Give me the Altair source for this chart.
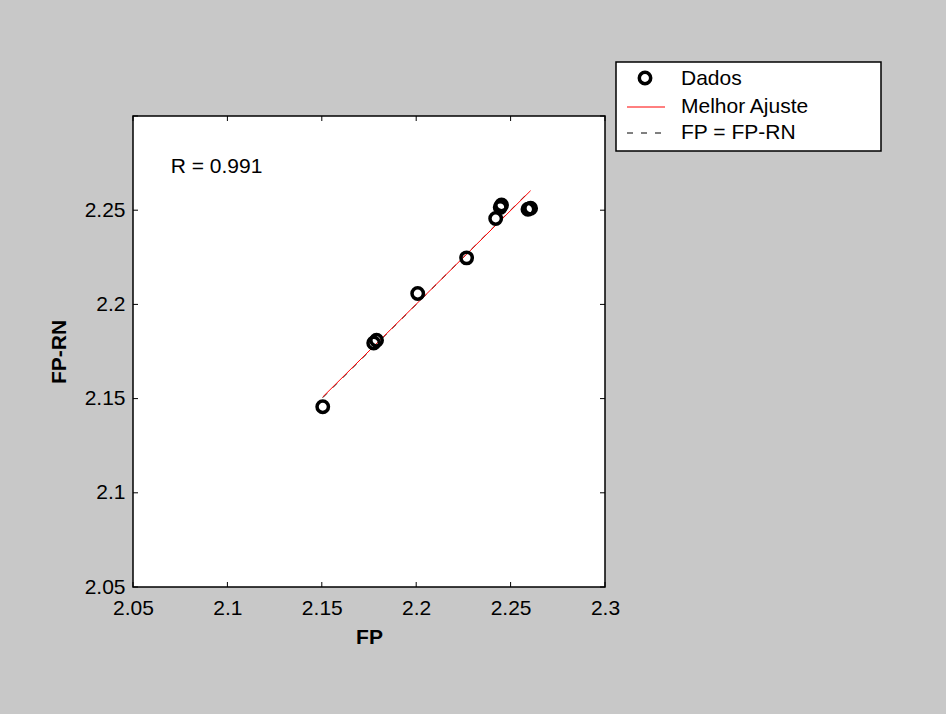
import altair as alt
import pandas as pd

# Measured pairs: target (FP) vs. network output (FP-RN)
fp = [2.1505, 2.1775, 2.1790, 2.2008, 2.2267, 2.2421, 2.2445, 2.2452, 2.2592, 2.2606]
fp_rn = [2.1457, 2.1795, 2.1810, 2.2058, 2.2247, 2.2456, 2.2515, 2.2528, 2.2505, 2.2510]

# Best linear fit (slope, intercept) and correlation
fit_slope = 0.9945
fit_intercept = 0.0122
r_value = 0.991

x_ticks = [2.05, 2.1, 2.15, 2.2, 2.25, 2.3]
y_ticks = [2.05, 2.1, 2.15, 2.2, 2.25, 2.3]
y_labels = [2.05, 2.1, 2.15, 2.2, 2.25]
legend_labels = ["Dados", "Melhor Ajuste", "FP = FP-RN"]

W, H = 472, 471
FONT = "Liberation Sans"
FS = 21
MARK_SIZE = 130
MARK_STROKE = 3.5

df = pd.DataFrame({"FP": fp, "FP-RN": fp_rn})
ends = pd.DataFrame({"FP": [min(fp), max(fp)]})

xs = alt.Scale(domain=[2.05, 2.3], nice=False, zero=False)
ys = alt.Scale(domain=[2.05, 2.3], nice=False, zero=False)

x_axis = alt.Axis(values=x_ticks, format="~g", ticks=False, domain=False, grid=False,
                  labelFlush=False, labelOverlap=False, labelPadding=10,
                  title="FP", titleX=W / 2, titleY=50, titleBaseline="middle",
                  titleAlign="center")
y_axis = alt.Axis(values=y_labels, format="~g", ticks=False, domain=False, grid=False,
                  labelFlush=False, labelOverlap=False, labelPadding=8,
                  title="FP-RN", titleX=-74, titleY=H / 2, titleAngle=-90,
                  titleBaseline="middle", titleAlign="center")

# Identity line y = x over the data range
identity = alt.Chart(ends).transform_calculate(
    FPRN="datum.FP"
).mark_line(color="black", strokeWidth=1, strokeDash=[6, 8]).encode(
    x=alt.X("FP:Q", scale=xs, axis=x_axis),
    y=alt.Y("FPRN:Q", scale=ys, axis=y_axis),
)

# Best-fit line
fit = alt.Chart(ends).transform_calculate(
    FPRN=f"{fit_intercept} + {fit_slope} * datum.FP"
).mark_line(color="#ff0000", strokeWidth=1).encode(
    x=alt.X("FP:Q", scale=xs),
    y=alt.Y("FPRN:Q", scale=ys),
)

points = alt.Chart(df).mark_point(
    shape="circle", filled=False, color="black", size=MARK_SIZE,
    strokeWidth=MARK_STROKE, opacity=1
).encode(
    x=alt.X("FP:Q", scale=xs),
    y=alt.Y("FP-RN:Q", scale=ys),
)

r_text = alt.Chart(pd.DataFrame({"x": [2.07], "y": [2.2728], "t": [f"R = {r_value}"]})).mark_text(
    align="left", baseline="middle", font=FONT, fontSize=FS, color="black"
).encode(x=alt.X("x:Q", scale=xs), y=alt.Y("y:Q", scale=ys), text="t:N")

# Inward tick marks on all four sides
xt = pd.DataFrame({"v": x_ticks})
yt = pd.DataFrame({"v": y_ticks})
tick_style = dict(color="black", strokeWidth=1)
ticks = [
    alt.Chart(xt).mark_rule(**tick_style).encode(
        x=alt.X("v:Q", scale=xs), y=alt.value(H), y2=alt.value(H - 5)),
    alt.Chart(xt).mark_rule(**tick_style).encode(
        x=alt.X("v:Q", scale=xs), y=alt.value(0), y2=alt.value(5)),
    alt.Chart(yt).mark_rule(**tick_style).encode(
        y=alt.Y("v:Q", scale=ys), x=alt.value(0), x2=alt.value(5)),
    alt.Chart(yt).mark_rule(**tick_style).encode(
        y=alt.Y("v:Q", scale=ys), x=alt.value(W), x2=alt.value(W - 5)),
]

# Legend box to the right of the axes
one = alt.Data(values=[{}])
lx0, lx1, ly0, ly1 = 483, 748, -54, 35
row_y = [-37, -9, 17]
legend = [
    alt.Chart(one).mark_rect(fill="white", stroke="black", strokeWidth=1.5).encode(
        x=alt.value(lx0), x2=alt.value(lx1), y=alt.value(ly0), y2=alt.value(ly1)),
    alt.Chart(one).mark_point(shape="circle", filled=False, color="black", size=MARK_SIZE,
                              strokeWidth=MARK_STROKE, opacity=1).encode(
        x=alt.value(512), y=alt.value(row_y[0] - 1)),
    alt.Chart(one).mark_rule(color="#ff0000", strokeWidth=1).encode(
        x=alt.value(494), x2=alt.value(532), y=alt.value(row_y[1])),
    alt.Chart(one).mark_rule(color="black", strokeWidth=1, strokeDash=[6, 8]).encode(
        x=alt.value(494), x2=alt.value(530), y=alt.value(row_y[2])),
]
for lab, yy in zip(legend_labels, row_y):
    legend.append(
        alt.Chart(one).mark_text(align="left", baseline="middle", font=FONT,
                                 fontSize=FS, color="black").encode(
            x=alt.value(548), y=alt.value(yy), text=alt.value(lab))
    )

chart = alt.layer(identity, fit, points, r_text, *ticks, *legend).properties(
    width=W,
    height=H,
    padding={"left": 133, "top": 116, "right": 341, "bottom": 127},
    autosize=alt.AutoSizeParams(type="none"),
    background="#c8c8c8",
).configure_view(
    fill="white", stroke="black", strokeWidth=1.5
).configure_axis(
    labelFont=FONT, labelFontSize=FS, labelColor="black",
    titleFont=FONT, titleFontSize=FS, titleFontWeight="bold", titleColor="black",
)

chart.save("out.html", embed_options={"renderer": "svg", "actions": False})
